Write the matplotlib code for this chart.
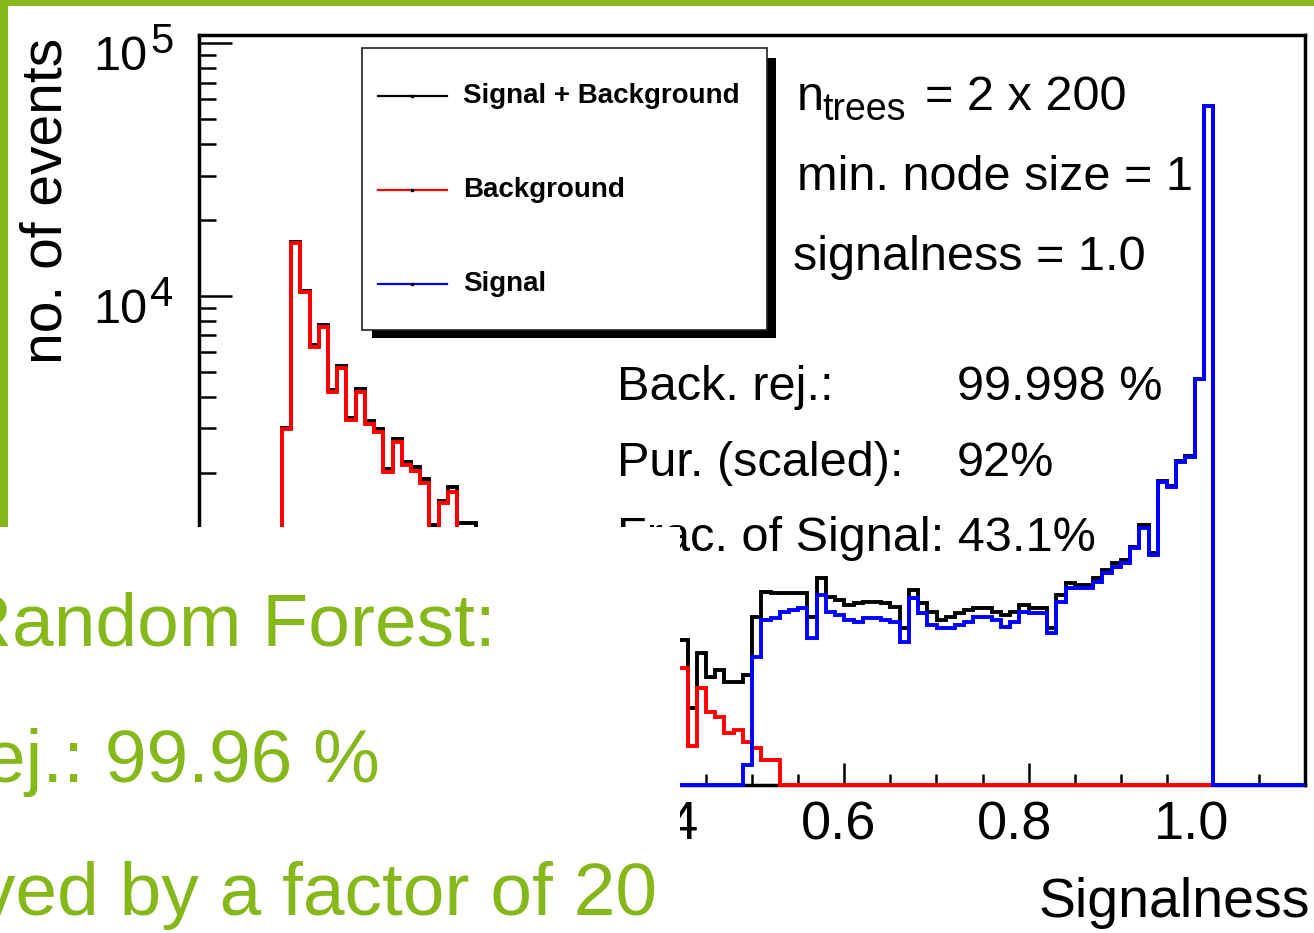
"""TMVA-style random forest response: signal/background histograms (log y) on a cropped slide."""

import matplotlib

matplotlib.use("Agg")
import matplotlib.pyplot as plt
import numpy as np
from matplotlib.lines import Line2D
from matplotlib.patches import Rectangle
from matplotlib.ticker import FixedLocator, LogLocator, NullFormatter
from matplotlib.transforms import blended_transform_factory

W, H = 1314, 933

# histogram binning: 120 bins from -0.1 to 1.1
X_MIN, X_MAX, N_BINS = -0.1, 1.1, 120
Y_MIN, Y_MAX = 10**2.065, 10**5.032
X_LABELED = [0.0, 0.2, 0.4, 0.6, 0.8, 1.0]

# bin contents, one row per 0.1 in signalness (hidden bins estimated)
total = [
    0, 0, 0, 0, 0, 0, 0, 0, 0, 3000,                                  # -0.10 .. -0.01
    16300, 10500, 6400, 7700, 4250, 5300, 3300, 4280, 3200, 2990,     # 0.00 .. 0.09
    2070, 2720, 2200, 2100, 1880, 1240, 1540, 1760, 1260, 1260,       # 0.10 .. 0.19
    1170, 1100, 1030, 1070, 950, 910, 940, 840, 810, 830,             # 0.20 .. 0.29
    740, 730, 690, 670, 690, 620, 590, 570, 570, 520,                 # 0.30 .. 0.39
    490, 460, 435, 234, 387, 312, 331, 298, 298, 316,                 # 0.40 .. 0.49
    538, 676, 666, 666, 666, 666, 538, 764, 646, 627,                 # 0.50 .. 0.59
    599, 608, 617, 617, 608, 590, 484, 687, 608, 563,                 # 0.60 .. 0.69
    523, 538, 555, 572, 581, 581, 563, 547, 563, 599,                 # 0.70 .. 0.79
    581, 581, 484, 656, 729, 718, 718, 764, 824, 875,                 # 0.80 .. 0.89
    902, 1018, 1243, 960, 1850, 1770, 2220, 2320, 4690, 56510,        # 0.90 .. 0.99
    0, 0, 0, 0, 0, 0, 0, 0, 0, 0,                                     # 1.00 .. 1.09
]
background = [
    0, 0, 0, 0, 0, 0, 0, 0, 0, 2980,
    16200, 10400, 6300, 7560, 4180, 5190, 3230, 4180, 3120, 2910,
    2020, 2650, 2140, 2040, 1820, 1150, 1520, 1680, 1170, 1180,
    1100, 1020, 960, 990, 880, 830, 860, 770, 730, 750,
    660, 640, 610, 580, 600, 530, 500, 470, 480, 420,
    390, 360, 337, 165, 281, 226, 216, 187, 192, 172,
    162, 146, 146, 103, 94, 85, 96, 108, 83, 80,
    76, 93, 86, 86, 85, 75, 56, 50, 53, 64,
    39, 54, 56, 57, 43, 43, 40, 56, 48, 36,
    26, 26, 22, 39, 32, 21, 21, 24, 24, 26,
    27, 14, 38, 16, 10, 10, 10, 10, 10, 10,
    0, 0, 0, 0, 0, 0, 0, 0, 0, 0,
]
signal = [
    0, 0, 0, 0, 0, 0, 0, 0, 0, 20,
    60, 70, 80, 100, 60, 90, 60, 80, 70, 70,
    50, 60, 60, 60, 60, 90, 30, 80, 90, 80,
    70, 80, 70, 80, 70, 80, 80, 70, 80, 80,
    80, 90, 80, 90, 90, 90, 90, 100, 90, 100,
    100, 100, 98, 69, 106, 86, 105, 111, 106, 139,
    374, 522, 530, 563, 572, 581, 442, 656, 563, 547,
    523, 515, 531, 531, 523, 515, 428, 637, 555, 499,
    484, 484, 499, 515, 538, 538, 523, 491, 515, 563,
    555, 555, 462, 617, 697, 697, 697, 740, 800, 849,
    875, 1004, 1205, 944, 1840, 1760, 2210, 2310, 4680, 56500,
    0, 0, 0, 0, 0, 0, 0, 0, 0, 0,
]

legend_labels = ["Signal + Background", "Background", "Signal"]
legend_colors = ["black", "#ff0000", "#0000ff"]

param_lines = ["min. node size = 1", "signalness = 1.0"]
perf_names = ["Back. rej.:", "Pur. (scaled):", "Frac. of Signal: 43.1%"]
perf_values = ["99.998 %", "92%", ""]

slide_lines = ["Random Forest:", "ej.: 99.96 %", "ved by a factor of 20"]
GREEN = "#86b81b"

plt.rcParams["font.family"] = ["Liberation Sans", "DejaVu Sans"]


def fx(px):
    return px / W


def fy(py):
    return 1 - py / H


fig = plt.figure(figsize=(W / 100, H / 100), dpi=100)
ax = fig.add_axes([fx(198.9), fy(785), fx(1305.3) - fx(198.9), fy(35.3) - fy(785)])

edges = np.linspace(X_MIN, X_MAX, N_BINS + 1)
for values, color, z in [(total, "black", 3), (background, "#ff0000", 4), (signal, "#0000ff", 5)]:
    ax.stairs(np.maximum(np.asarray(values, dtype=float), Y_MIN), edges,
              color=color, lw=2.8, baseline=None, clip_on=False, zorder=z)

ax.set_yscale("log")
ax.set_xlim(X_MIN, X_MAX)
ax.set_ylim(Y_MIN, Y_MAX)

ax.xaxis.set_major_locator(FixedLocator(X_LABELED))
ax.xaxis.set_minor_locator(FixedLocator(np.arange(-0.1, 1.101, 0.05)))
ax.xaxis.set_major_formatter(NullFormatter())
ax.yaxis.set_major_locator(LogLocator(base=10))
ax.yaxis.set_minor_locator(LogLocator(base=10, subs=np.arange(2, 10)))
ax.yaxis.set_major_formatter(NullFormatter())
ax.yaxis.set_minor_formatter(NullFormatter())

ax.tick_params(axis="both", which="both", direction="in", width=1.8, top=False, right=False)
ax.tick_params(axis="x", which="major", length=16)
ax.tick_params(axis="x", which="minor", length=8)
ax.tick_params(axis="y", which="major", length=24)
ax.tick_params(axis="y", which="minor", length=12)
for sp in ax.spines.values():
    sp.set_linewidth(2.5)

# ROOT-style tick labels: x labels drift slightly left of their ticks, y decades with big exponent
xtrans = blended_transform_factory(ax.transData, ax.transAxes)
for val in X_LABELED:
    ax.annotate(f"{val:.1f}", xy=(val, 0), xycoords=xtrans, xytext=(18 - 40 * val, -55),
                textcoords="offset pixels", ha="center", va="baseline", fontsize=39,
                annotation_clip=False)
ytrans = blended_transform_factory(ax.transAxes, ax.transData)
for k in range(int(np.ceil(np.log10(Y_MIN))), int(np.floor(np.log10(Y_MAX))) + 1):
    ax.annotate("10", xy=(0, 10.0**k), xycoords=ytrans, xytext=(-52, -27),
                textcoords="offset pixels", ha="right", va="baseline", fontsize=35,
                annotation_clip=False)
    ax.annotate(str(k), xy=(0, 10.0**k), xycoords=ytrans, xytext=(-49, -10),
                textcoords="offset pixels", ha="left", va="baseline", fontsize=30,
                annotation_clip=False)

fig.text(fx(62), fy(38), "no. of events", fontsize=41, rotation=90,
         rotation_mode="anchor", ha="right", va="baseline")
fig.text(fx(1310), fy(917), "Signalness", fontsize=40, ha="right", va="baseline")

# legend box with ROOT-like drop shadow
fig.add_artist(Rectangle((fx(372), fy(338)), fx(776) - fx(372), fy(58) - fy(338),
                         transform=fig.transFigure, facecolor="black", edgecolor="none", zorder=6))
fig.add_artist(Rectangle((fx(362), fy(330)), fx(767) - fx(362), fy(48) - fy(330),
                         transform=fig.transFigure, facecolor="white", edgecolor="#222222",
                         lw=1.2, zorder=7))
for i, (label, color) in enumerate(zip(legend_labels, legend_colors)):
    y = 96 + 94 * i
    fig.add_artist(Line2D([fx(378), fx(447)], [fy(y), fy(y)], color=color, lw=1.6,
                          transform=fig.transFigure, zorder=8))
    fig.add_artist(Line2D([fx(412)], [fy(y)], marker="s", ms=1.5, color="black",
                          transform=fig.transFigure, zorder=9))
    fig.text(fx(463), fy(y), label, fontsize=20, fontweight="bold", va="center", zorder=9)

# classifier settings, top right
fig.text(fx(797), fy(110), "n", fontsize=35, va="baseline")
fig.text(fx(822), fy(120), "trees", fontsize=27, va="baseline")
fig.text(fx(925), fy(110), "= 2 x 200", fontsize=35, va="baseline")
for i, line in enumerate(param_lines):
    fig.text(fx(797 if i == 0 else 793), fy(190 + 80 * i), line, fontsize=35, va="baseline")
for i, (name, value) in enumerate(zip(perf_names, perf_values)):
    y = 400 + 75.5 * i
    fig.text(fx(617), fy(y), name, fontsize=35, va="baseline")
    if value:
        fig.text(fx(957), fy(y), value, fontsize=35, va="baseline")

# slide decoration: green frame and the white panel with cut-off green text on top
fig.add_artist(Rectangle((0, fy(6)), 1, fy(0) - fy(6), transform=fig.transFigure,
                         facecolor=GREEN, edgecolor="none", zorder=12))
fig.add_artist(Rectangle((0, fy(527)), fx(8), fy(0) - fy(527), transform=fig.transFigure,
                         facecolor=GREEN, edgecolor="none", zorder=12))
fig.add_artist(Rectangle((0, 0), fx(680), fy(527), transform=fig.transFigure,
                         facecolor="white", edgecolor="none", zorder=13))
for x0, yb, line in zip([-42, -16, -22], [645, 782, 915], slide_lines):
    fig.text(fx(x0), fy(yb), line, fontsize=54, color=GREEN, va="baseline", zorder=14)

fig.savefig("out.png", dpi=100)
